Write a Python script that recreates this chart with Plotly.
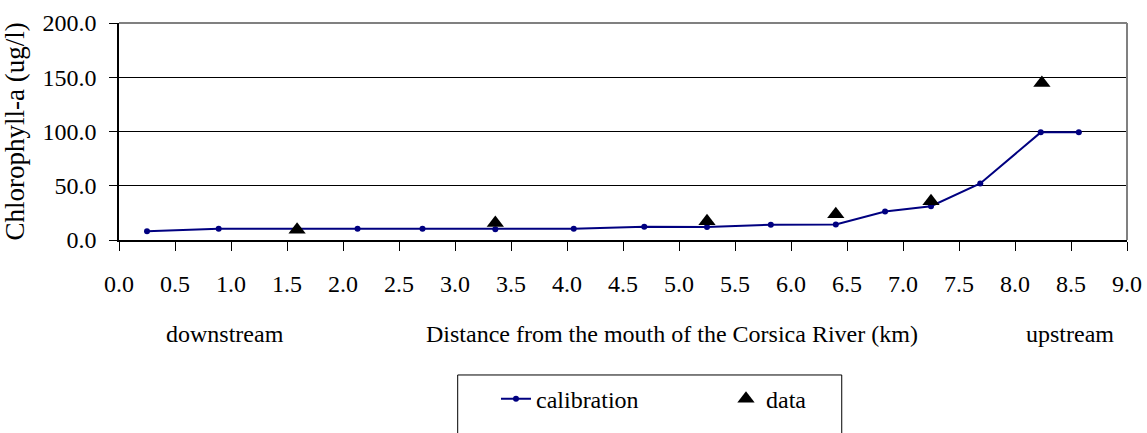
import plotly.graph_objects as go

# Calibration (model) results
calib_km = [0.25, 0.89, 1.59, 2.13, 2.71, 3.36, 4.06, 4.69, 5.25, 5.82, 6.40, 6.84, 7.25, 7.69, 8.23, 8.57]
calib_chla = [8.0, 10.3, 10.3, 10.3, 10.3, 10.0, 10.3, 12.1, 12.0, 14.0, 14.2, 26.3, 31.1, 52.1, 99.2, 99.2]

# Observed data
data_km = [1.59, 3.36, 5.25, 6.40, 7.25, 8.24]
data_chla = [9.5, 15.6, 17.3, 23.7, 35.6, 144.7]

FONT = "Liberation Serif, Times New Roman, serif"

fig = go.Figure()
fig.add_trace(go.Scatter(
    x=calib_km, y=calib_chla, mode="lines+markers", name="calibration",
    line=dict(color="#000080", width=2),
    marker=dict(color="#000080", size=6, symbol="circle"),
))
fig.add_trace(go.Scatter(
    x=data_km, y=data_chla, mode="markers", name="data",
    marker=dict(color="black", size=15, symbol="triangle-up"),
))

fig.update_layout(
    width=1147, height=433, autosize=False,
    margin=dict(l=119, r=20, t=23, b=185),
    paper_bgcolor="white", plot_bgcolor="white",
    font=dict(family=FONT, size=24, color="black"),
    showlegend=True,
    legend=dict(
        orientation="h", x=0.374, y=-0.63, xanchor="left", yanchor="top",
        bgcolor="rgba(0,0,0,0)", borderwidth=0,
        entrywidth=185, entrywidthmode="pixels",
        font=dict(family=FONT, size=24, color="black"),
    ),
    xaxis=dict(
        range=[0, 9], tick0=0, dtick=0.5, tickformat=".1f",
        ticks="outside", ticklen=9, tickwidth=1, tickcolor="black",
        showline=True, linecolor="black", linewidth=1.5,
        showgrid=False, zeroline=False, automargin=False,
        ticklabelstandoff=12,
        tickfont=dict(family=FONT, size=24),
    ),
    yaxis=dict(
        range=[0, 200], tick0=0, dtick=50, tickformat=".1f",
        ticks="outside", ticklen=8, tickwidth=1, tickcolor="black",
        showline=True, linecolor="black", linewidth=1.5,
        showgrid=True, gridcolor="black", gridwidth=1,
        zeroline=False, automargin=False,
        ticklabelstandoff=8,
        tickfont=dict(family=FONT, size=24),
        title=dict(text="Chlorophyll-a (ug/l)", standoff=10,
                   font=dict(family=FONT, size=27)),
    ),
    shapes=[
        dict(type="line", xref="paper", yref="paper", x0=0, x1=1, y0=1, y1=1,
             line=dict(color="#808080", width=2)),
        dict(type="line", xref="paper", yref="paper", x0=1, x1=1, y0=0, y1=1,
             line=dict(color="#808080", width=2)),
        dict(type="rect", xref="paper", yref="paper", x0=0.336, x1=0.717, y0=-0.622, y1=-1.2,
             line=dict(color="black", width=1), fillcolor="rgba(0,0,0,0)"),
    ],
    annotations=[
        dict(text="downstream", xref="paper", yref="paper", x=0.105, y=-0.434,
             showarrow=False, xanchor="center", yanchor="middle", font=dict(size=24)),
        dict(text="Distance from the mouth of the Corsica River (km)", xref="paper", yref="paper",
             x=0.549, y=-0.434, showarrow=False, xanchor="center", yanchor="middle", font=dict(size=24)),
        dict(text="upstream", xref="paper", yref="paper", x=0.943, y=-0.434,
             showarrow=False, xanchor="center", yanchor="middle", font=dict(size=24)),
    ],
)

# Remove the browser's default 8px body margin so the figure sits at the page origin.
fig.write_html(
    "out.html",
    config={"displayModeBar": False},
    post_script="document.body.style.margin='0';document.body.style.overflow='hidden';",
)
